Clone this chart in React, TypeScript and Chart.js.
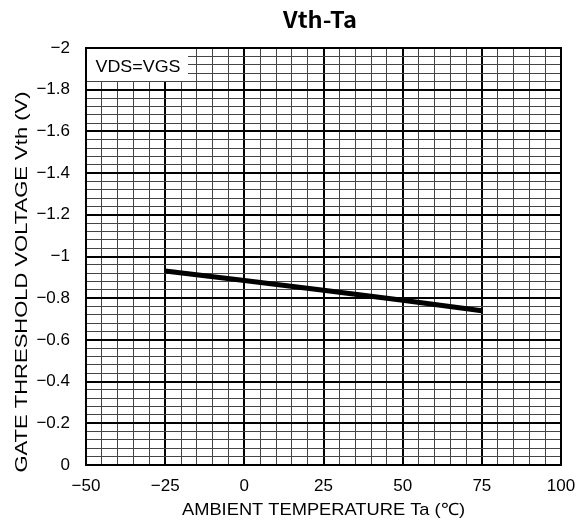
import React, { useEffect, useRef } from "react";
import { Chart, registerables } from "chart.js";

Chart.register(...registerables);

const temperatures = [-25, 0, 25, 50, 75];
const vth = [-0.93, -0.885, -0.838, -0.79, -0.74];
const xTickLabels = [-50, -25, 0, 25, 50, 75, 100];
const yTickLabels = [0, -0.2, -0.4, -0.6, -0.8, -1, -1.2, -1.4, -1.6, -1.8, -2];
const titleText = "Vth-Ta";
const xTitle = "AMBIENT TEMPERATURE Ta (℃)";
const yTitle = "GATE THRESHOLD VOLTAGE Vth (V)";
const noteText = "VDS=VGS";

const fmt = (v: number) => {
  const s = String(Math.abs(Math.round(v * 100) / 100));
  return v < 0 ? "\u2212" + s : s;
};

const FONT = "'Liberation Sans', Arial, sans-serif";

function fitText(ctx: any, text: string, cx: number, cy: number, width: number) {
  const w = ctx.measureText(text).width;
  ctx.save();
  ctx.translate(cx, cy);
  ctx.scale(width / w, 1);
  ctx.fillText(text, 0, 0);
  ctx.restore();
}

export default function App() {
  const ref = useRef<HTMLCanvasElement | null>(null);
  useEffect(() => {
    if (!ref.current) return;
    const overlay = {
      id: "overlay",
      beforeDatasetsDraw(chart: any) {
        const { ctx, chartArea: a } = chart;
        ctx.save();
        ctx.fillStyle = "#fff";
        ctx.fillRect(a.left, a.top, 102, 33);
        ctx.fillStyle = "#000";
        ctx.font = `17px ${FONT}`;
        ctx.textBaseline = "middle";
        ctx.textAlign = "center";
        fitText(ctx, noteText, a.left + 52, a.top + 19, 85);
        ctx.restore();
      },
      afterDraw(chart: any) {
        const { ctx, chartArea: a } = chart;
        ctx.save();
        ctx.strokeStyle = "#000";
        ctx.lineWidth = 2;
        ctx.strokeRect(a.left, a.top, a.right - a.left, a.bottom - a.top);
        ctx.fillStyle = "#000";
        ctx.textAlign = "center";
        ctx.textBaseline = "middle";
        ctx.font = `bold 22px 'Noto Sans CJK JP', ${FONT}`;
        fitText(ctx, titleText, 320, 20, 74);
        ctx.font = `17px ${FONT}`;
        fitText(ctx, xTitle, 323.5, 510, 283);
        ctx.translate(22, 282);
        ctx.rotate(-Math.PI / 2);
        fitText(ctx, yTitle, 0, 0, 381);
        ctx.restore();
      },
    };
    const chart = new Chart(ref.current, {
      type: "line",
      data: {
        datasets: [
          {
            data: temperatures.map((t, i) => ({ x: t, y: vth[i] })),
            borderColor: "#000",
            borderWidth: 5,
            pointRadius: 0,
            fill: false,
            tension: 0,
          },
        ],
      },
      options: {
        animation: false,
        responsive: false,
        maintainAspectRatio: false,
        layout: { padding: { top: 48, right: 26, left: 0, bottom: 0 } },
        plugins: { legend: { display: false }, tooltip: { enabled: false }, title: { display: false } },
        scales: {
          x: {
            type: "linear",
            min: -50,
            max: 100,
            afterFit: (s: any) => {
              s.height = 62;
            },
            border: { display: false },
            grid: {
              drawTicks: false,
              color: (c: any) => (Math.round(c.tick.value) % 25 === 0 ? "#000" : "#444"),
              lineWidth: (c: any) => (Math.round(c.tick.value) % 25 === 0 ? 2 : 1),
            },
            ticks: {
              stepSize: 5,
              autoSkip: false,
              maxRotation: 0,
              padding: 11,
              color: "#000",
              font: { size: 17, family: FONT },
              callback: (v: any) => (xTickLabels.includes(Math.round(Number(v))) ? fmt(Number(v)) : ""),
            },
          },
          y: {
            type: "linear",
            min: -2,
            max: 0,
            reverse: true,
            afterFit: (s: any) => {
              s.width = 86;
            },
            border: { display: false },
            grid: {
              drawTicks: false,
              color: (c: any) => (Math.round(c.tick.value * 100) % 20 === 0 ? "#000" : "#444"),
              lineWidth: (c: any) => (Math.round(c.tick.value * 100) % 20 === 0 ? 2 : 1),
            },
            ticks: {
              stepSize: 0.04,
              autoSkip: false,
              padding: 16,
              color: "#000",
              font: { size: 17, family: FONT },
              callback: (v: any) => {
                const n = Math.round(Number(v) * 100);
                return yTickLabels.some((t) => Math.round(t * 100) === n) ? fmt(Number(v)) : "";
              },
            },
          },
        },
      },
      plugins: [overlay],
    });
    return () => chart.destroy();
  }, []);
  return (
    <div style={{ position: "fixed", left: 0, top: 0, width: 587, height: 527, background: "#fff" }}>
      <canvas ref={ref} width={587} height={527} style={{ width: 587, height: 527 }} />
    </div>
  );
}
